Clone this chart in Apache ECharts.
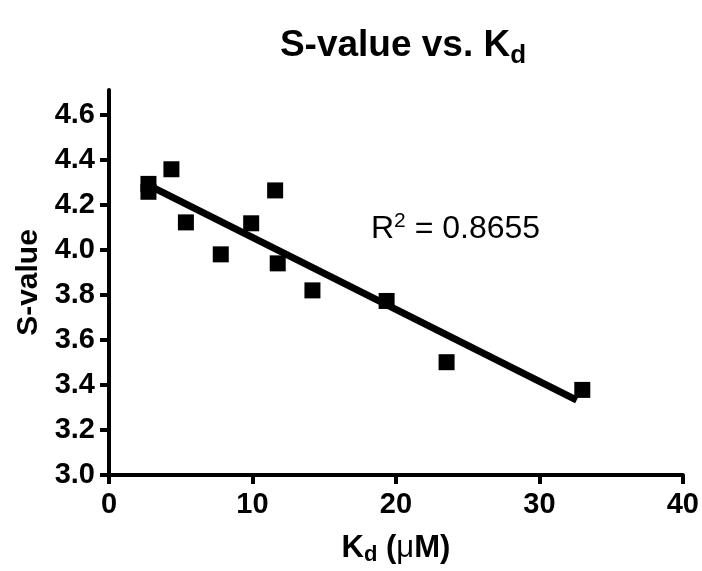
<!DOCTYPE html>
<html>
<head>
<meta charset="utf-8">
<script src="https://cdn.jsdelivr.net/npm/echarts@6/dist/echarts.min.js"></script>
<style>html,body{margin:0;padding:0;background:#fff}#c{width:702px;height:571px}</style>
</head>
<body>
<div id="c"></div>
<script>
// Data
var kd = [2.75, 2.75, 4.35, 5.36, 7.79, 9.91, 11.58, 11.76, 14.18, 19.35, 23.53, 32.99];
var sValue = [4.293, 4.258, 4.358, 4.122, 3.98, 4.118, 4.264, 3.94, 3.82, 3.773, 3.501, 3.378];
var fitX = [2.6, 32.6];
var fitY = [4.292, 3.333];
var yTicks = [3.0, 3.2, 3.4, 3.6, 3.8, 4.0, 4.2, 4.4, 4.6];
var xTicks = [0, 10, 20, 30, 40];
var rSquared = '0.8655';

var pts = kd.map(function (x, i) { return [x, sValue[i]]; });
var fit = fitX.map(function (x, i) { return [x, fitY[i]]; });

var font = '"Liberation Sans", Arial, sans-serif';
var chart = echarts.init(document.getElementById('c'), null, {renderer: 'canvas'});
chart.setOption({
  backgroundColor: '#fff',
  animation: false,
  title: {
    text: '{t|S-value vs. K}{s|d}',
    left: 398, top: 18, textAlign: 'center',
    textStyle: {
      rich: {
        t: {fontFamily: font, fontWeight: 'bold', fontSize: 37, color: '#000'},
        s: {fontFamily: font, fontWeight: 'bold', fontSize: 26, color: '#000', padding: [20, 0, 0, 0]}
      }
    }
  },
  grid: {left: 109, right: 17, top: 90, bottom: 95, containLabel: false},
  xAxis: {
    type: 'value', min: 0, max: 40, interval: 10,
    axisLine: {lineStyle: {color: '#000', width: 4}},
    axisTick: {show: true, length: 9, lineStyle: {color: '#000', width: 4}, customValues: xTicks},
    splitLine: {show: false},
    axisLabel: {customValues: xTicks, margin: 15, color: '#000', fontFamily: font, fontWeight: 'bold', fontSize: 29},
    name: '{t|K}{s|d}{t| (}{m|μ}{t|M)}',
    nameLocation: 'middle', nameGap: 55,
    nameTextStyle: {
      rich: {
        t: {fontFamily: font, fontWeight: 'bold', fontSize: 31, color: '#000'},
        s: {fontFamily: font, fontWeight: 'bold', fontSize: 22, color: '#000', padding: [14, 0, 0, 0]},
        m: {fontFamily: font, fontWeight: 'normal', fontSize: 31, color: '#000'}
      }
    }
  },
  yAxis: {
    type: 'value', min: 3.0, max: 4.71, interval: 0.2,
    axisLine: {lineStyle: {color: '#000', width: 4}},
    axisTick: {show: true, length: 9, lineStyle: {color: '#000', width: 4}, customValues: yTicks},
    splitLine: {show: false},
    axisLabel: {customValues: yTicks, margin: 14, color: '#000', fontFamily: font, fontWeight: 'bold', fontSize: 29,
      formatter: function (v) { return v.toFixed(1); }},
    name: 'S-value', nameLocation: 'middle', nameGap: 58, nameRotate: 90,
    nameTextStyle: {fontFamily: font, fontWeight: 'bold', fontSize: 30, color: '#000'}
  },
  series: [
    {
      type: 'line', data: fit, showSymbol: false, symbol: 'none',
      lineStyle: {color: '#000', width: 7, cap: 'butt'}, z: 2
    },
    {
      type: 'scatter', data: pts, symbol: 'rect', symbolSize: 16,
      itemStyle: {color: '#000', opacity: 1}, z: 3
    }
  ],
  graphic: [{
    type: 'text', left: 371, top: 211,
    style: {
      text: '{r|R}{p|2}{r| = ' + rSquared + '}',
      rich: {
        r: {fontFamily: font, fontSize: 32, fill: '#000', color: '#000'},
        p: {fontFamily: font, fontSize: 21, fill: '#000', color: '#000', padding: [0, 0, 16, 0]}
      }
    }
  }]
});
</script>
</body>
</html>
